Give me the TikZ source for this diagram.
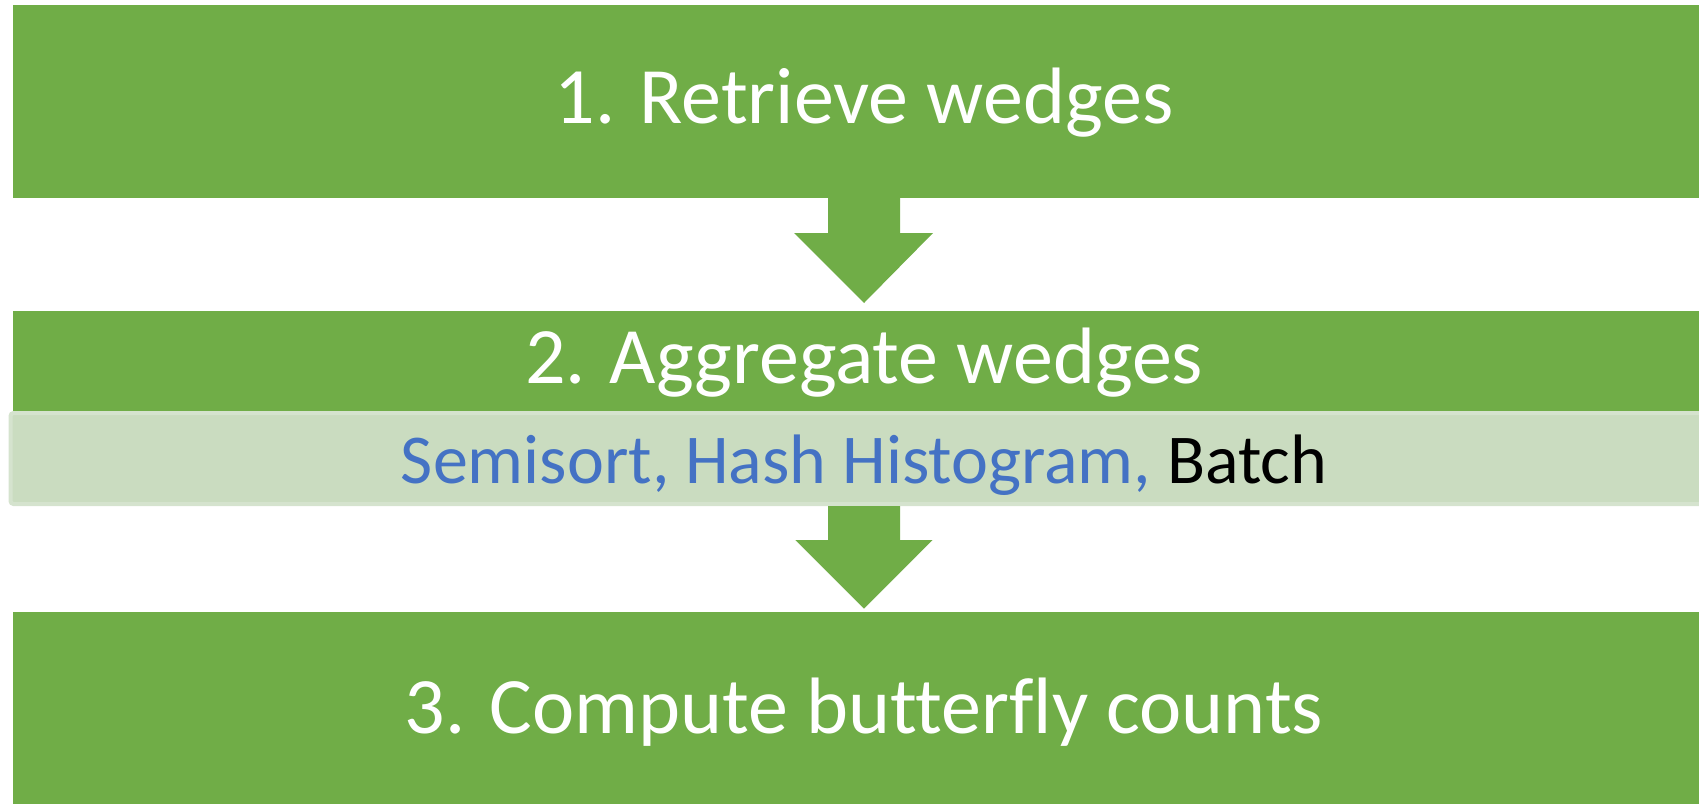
\documentclass[tikz,border=0pt]{standalone}
\usepackage{fontspec}
\setmainfont{Carlito}[Ligatures=NoCommon]
\definecolor{verde}{HTML}{70AD47}
\definecolor{faixaverde}{HTML}{CADCC0}
\definecolor{bordafaixa}{HTML}{D5E3CE}
\definecolor{azul}{HTML}{4472C4}

\begin{document}
\begin{tikzpicture}[
            x=1pt, y=-1pt,
            etapa/.style={shape=rectangle, fill=verde, minimum width=1702pt, inner sep=0pt, outer sep=0pt},
            faixa/.style={shape=rectangle, fill=faixaverde, draw=bordafaixa, line width=4pt, rounded corners=3pt, minimum width=1707pt, minimum height=91pt, inner sep=0pt, outer sep=0pt},
            texto/.style={anchor=base, text=white, inner sep=0pt, font=\fontsize{80}{96}\selectfont},
            subtexto/.style={anchor=base, text=black, inner sep=0pt, font=\fontsize{70}{84}\selectfont},
            seta/.style={fill=verde},
            contorno/.style={draw=white, line width=1.5pt},
        ]
        \useasboundingbox (0,0) rectangle (1699,803);

        \node[etapa, minimum height=193pt] (retrieve) at (864, 101.5) {};
        \node[etapa, minimum height=195pt] (aggregate) at (864, 408.5) {};
        \node[etapa, minimum height=200pt] (compute) at (864, 712) {};
        \node[faixa] (metodos) at (864, 458.5) {};

        \fill[seta] ([xshift=-36pt]retrieve.south) -- ++(0,35) -- ++(-34,0) -- ([yshift=8pt]aggregate.north) -- ++(69,-70) -- ++(-33,0) -- ([xshift=36pt]retrieve.south) -- cycle;
        \fill[seta] ([xshift=-36pt]aggregate.south) -- ++(0,34) -- ++(-34,0) -- ([yshift=2pt]compute.north) -- ++(69,-70) -- ++(-33,0) -- ([xshift=36pt]aggregate.south) -- cycle;
        \draw[contorno] ([shift={(-70pt,72pt)}]compute.north) -- ([yshift=2pt]compute.north) -- ++(70,-70);

        \node[texto] (t1) at (864, 123) {1. Retrieve wedges};
        \node[texto] (t2) at (864, 383) {2. Aggregate wedges};
        \node[subtexto] (t2b) at (864, 483) {\textcolor{azul}{Semisort, Hash Histogram,} Batch};
        \node[texto] (t3) at (864, 733) {3. Compute butterfly counts};

    \end{tikzpicture}
\end{document}
